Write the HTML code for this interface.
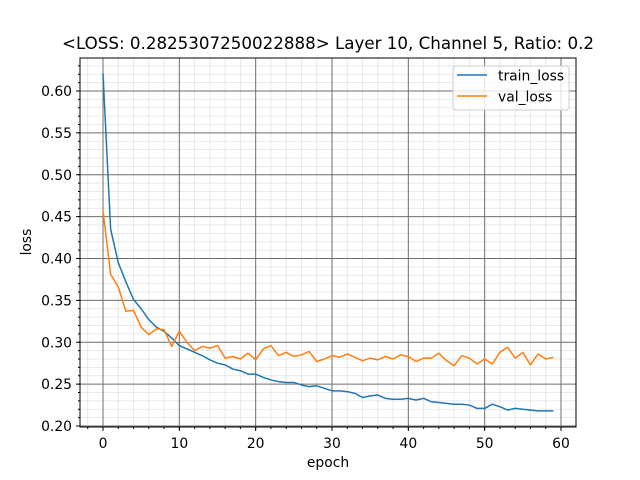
<!DOCTYPE html>
<html><head><meta charset="utf-8"><style>body{margin:0;background:#fff}svg{display:block;font-family:"DejaVu Sans","Liberation Sans",sans-serif}</style></head>
<body>
<svg id="c" width="640" height="480"></svg>
<script>
const epochs=[...Array(60).keys()];
const trainLoss=[0.621,0.435,0.395,0.372,0.351,0.340,0.327,0.318,0.313,0.305,0.296,0.292,0.288,0.284,0.279,0.275,0.273,0.268,0.266,0.262,0.262,0.258,0.255,0.253,0.252,0.252,0.249,0.247,0.248,0.245,0.242,0.242,0.241,0.239,0.234,0.236,0.237,0.233,0.232,0.232,0.233,0.231,0.233,0.229,0.228,0.227,0.226,0.226,0.225,0.221,0.221,0.226,0.223,0.219,0.221,0.220,0.219,0.218,0.218,0.218];
const valLoss=[0.457,0.381,0.366,0.337,0.338,0.318,0.309,0.316,0.315,0.295,0.313,0.300,0.290,0.295,0.293,0.296,0.281,0.283,0.280,0.287,0.279,0.292,0.296,0.284,0.288,0.283,0.285,0.289,0.277,0.280,0.284,0.282,0.286,0.282,0.278,0.281,0.279,0.283,0.280,0.285,0.283,0.277,0.281,0.281,0.287,0.278,0.272,0.284,0.281,0.274,0.280,0.274,0.288,0.294,0.281,0.288,0.273,0.286,0.280,0.282];
const xTicks=[0,10,20,30,40,50,60];
const yTicks=[0.20,0.25,0.30,0.35,0.40,0.45,0.50,0.55,0.60];
const L=80,R=576,T=58,B=427;
const FS=13.9;
const X=v=>103+v*(561-103)/60;
const Y=v=>426-(v-0.20)*(335/0.40);
const svg=document.getElementById('c');const NS='http://www.w3.org/2000/svg';
function el(t,a,p){const e=document.createElementNS(NS,t);for(const k in a)e.setAttribute(k,a[k]);(p||svg).appendChild(e);return e;}
for(let v=-2;v<=62;v+=2){if(v%10===0)continue;const x=X(v);if(x<L||x>R)continue;const g=el('line',{x1:x,x2:x,y1:T,y2:B,stroke:'#e2e2e2','stroke-width':0.8});}
for(let i=20;i<=63;i++){if(i%5===0)continue;const y=Y(i/100);if(y<T||y>B)continue;const g=el('line',{x1:L,x2:R,y1:y,y2:y,stroke:'#e2e2e2','stroke-width':0.8});}
xTicks.forEach(v=>{const x=X(v);
const g=el('line',{x1:x,x2:x,y1:T,y2:B,stroke:'#6e6e6e','stroke-width':1});
el('line',{x1:x,x2:x,y1:B,y2:B+4,stroke:'#000'});
const t=el('text',{x:x,y:B+21,'text-anchor':'middle','font-size':FS});t.textContent=v;});
for(let v=-2;v<=62;v+=2){const x=X(v);if(x<L||x>R)continue;el('line',{x1:x,x2:x,y1:B,y2:B+2,stroke:'#000'});}
yTicks.forEach(v=>{const y=Y(v);
const g=el('line',{x1:L,x2:R,y1:y,y2:y,stroke:'#6e6e6e','stroke-width':1});
el('line',{x1:L-4,x2:L,y1:y,y2:y,stroke:'#000'});
const t=el('text',{x:L-8,y:y+5,'text-anchor':'end','font-size':FS});t.textContent=v.toFixed(2);});
for(let i=20;i<=63;i++){const y=Y(i/100);if(y<T||y>B)continue;el('line',{x1:L-2,x2:L,y1:y,y2:y,stroke:'#000'});}
function line(vals,color,name){const p=el('polyline',{points:vals.map((v,i)=>X(epochs[i])+','+Y(v)).join(' '),fill:'none',stroke:color,'stroke-width':1.5,'stroke-linejoin':'round'});}
line(trainLoss,'#1f77b4','train-loss-line');
line(valLoss,'#ff7f0e','val-loss-line');
const f=el('rect',{x:L,y:T,width:R-L,height:B-T,fill:'none',stroke:'#000','stroke-width':1});
const ti=el('text',{x:328,y:49,'text-anchor':'middle','font-size':16.7});ti.textContent='<LOSS: 0.2825307250022888> Layer 10, Channel 5, Ratio: 0.2';
const xl=el('text',{x:328,y:467,'text-anchor':'middle','font-size':FS});xl.textContent='epoch';
const yl=el('text',{x:31,y:242,'text-anchor':'middle','font-size':FS,transform:'rotate(-90 31 242)'});yl.textContent='loss';
const lg=el('g',{});
el('rect',{x:453,y:66,width:116,height:44,rx:3,fill:'#fff','fill-opacity':0.8,stroke:'#ccc'},lg);
[['train_loss','#1f77b4',75],['val_loss','#ff7f0e',96]].forEach(([n,c,y])=>{
el('line',{x1:457,x2:487,y1:y,y2:y,stroke:c,'stroke-width':1.5},lg);
const t=el('text',{x:498,y:y+5.5,'font-size':FS},lg);t.textContent=n;});
</script>
</body></html>
